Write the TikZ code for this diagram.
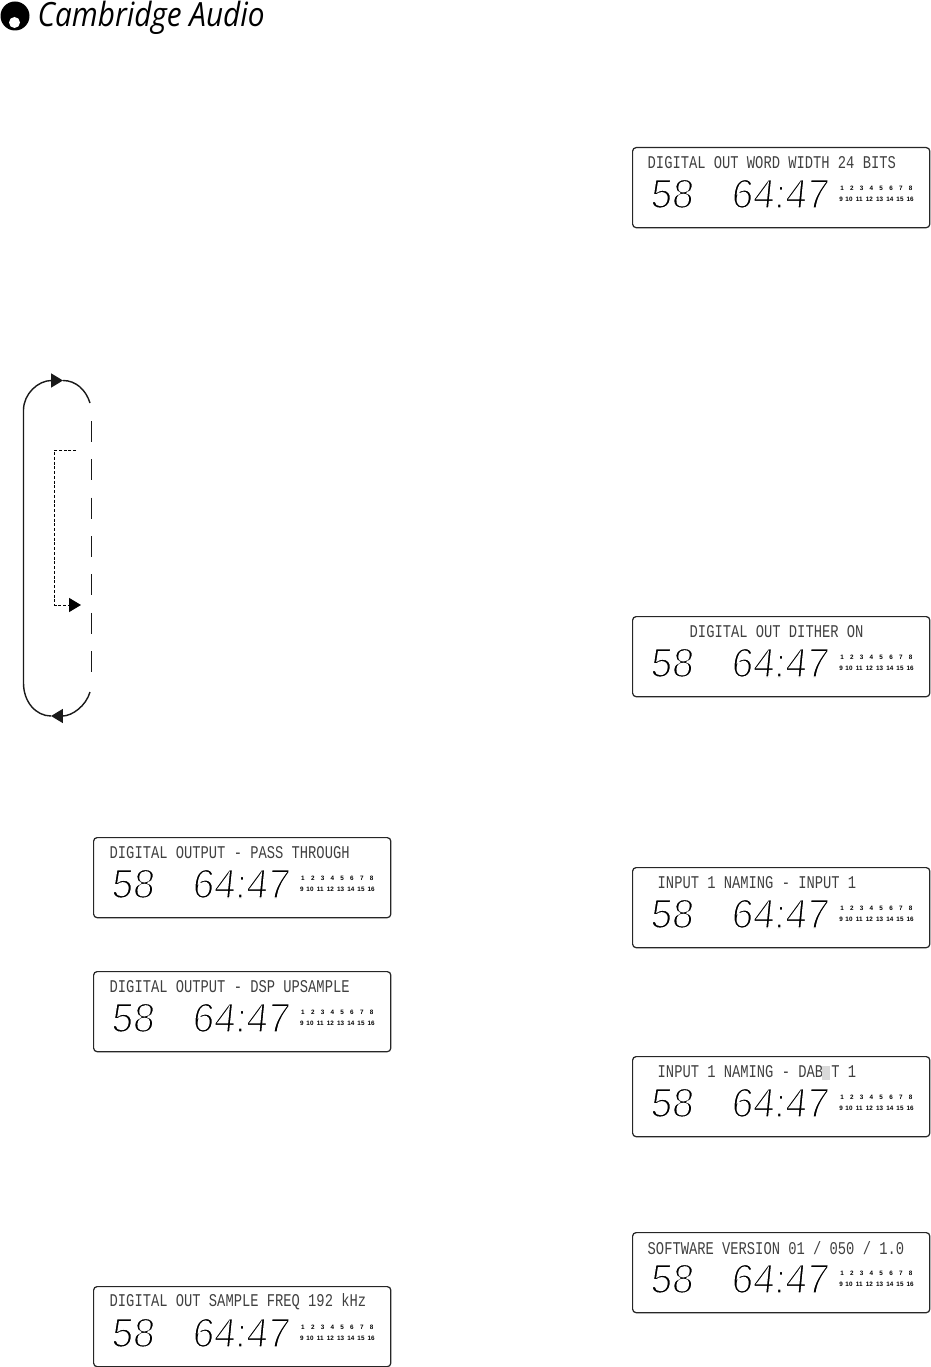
\documentclass[tikz,border=0pt]{standalone}
\usepackage{fontspec}
\usepackage{tikz}
\usetikzlibrary{arrows.meta}
\setmainfont{Liberation Sans}
\newfontfamily\lcdfont{Liberation Mono}
\newfontfamily\logofont{Open Sans}
\newcommand{\thinglyph}{\special{pdf:code 2 Tr 0.42 w 1 1 1 RG}}
\newcommand{\fullglyph}{\special{pdf:code 0 Tr 0 0 0 RG}}
\tikzset{
  panelbox/.style={draw=black!85,line width=.35pt,rounded corners=1pt,minimum width=2.97cm,minimum height=.8cm,inner sep=0,anchor=north west},
  titletext/.style={anchor=west,inner sep=0,black!75,yscale=1.3,transform shape,font=\lcdfont\fontsize{3.92}{4}\selectfont},
  bigdigits/.style={anchor=base west,inner sep=0,xslant=.1,xscale=.94,transform shape,font=\fontsize{11.7}{12}\selectfont},
  trackno/.style={inner sep=0,font=\bfseries\fontsize{1.8}{2.2}\selectfont},
  loopline/.style={line width=.4pt,black!90},
  looptip/.style={-{Triangle[length=3.4pt,width=4pt]}},
}
\begin{document}
\begin{tikzpicture}[x=0.01cm,y=-0.01cm]
\useasboundingbox (0,0) rectangle (930,1367);

% logo
\fill (15,16) circle (14.5);
\fill[white] (14.5,22.5) circle (5.5);
\node[anchor=base west,inner sep=0,xscale=.89,transform shape,font=\logofont\itshape\fontsize{9.5}{10}\selectfont] (logo) at (37,27) {Cambridge Audio};

% loop
\coordinate (rightbot) at (90,692);
\coordinate (bottip) at (51,716);
\coordinate (leftbot) at (23.5,683);
\coordinate (lefttop) at (23.5,410);
\coordinate (toptip) at (63,380.5);
\coordinate (righttop) at (90,403);
\coordinate (dashtop) at (91.5,421);
\coordinate (dashbot) at (91.5,674);
\draw[loopline,looptip] (rightbot) .. controls (86,706) and (72,716) .. (bottip);
\draw[loopline] (bottip) .. controls (36,716) and (23.5,702) .. (leftbot) -- (lefttop);
\draw[loopline,looptip] (lefttop) .. controls (23.5,394) and (38,380.5) .. (toptip);
\draw[loopline] (toptip) .. controls (76,380.5) and (86,390) .. (righttop);
\draw[loopline,dash pattern=on 5.95pt off 4.96pt] (dashtop) -- (dashbot);

% dashed return
\coordinate (stubstart) at (76,450);
\coordinate (stubcorner) at (54.5,450);
\coordinate (stubdown) at (54.5,605);
\coordinate (stubtip) at (81,605);
\draw[line width=.25pt,dash pattern=on .85pt off .5pt] (stubstart) -- (stubcorner) -- (stubdown) -- (69,605);
\draw[looptip,line width=.25pt] (69,605) -- (stubtip);

% displays
\foreach \name/\x/\y/\off/\txt in {
  wordwidth/632/147/15/{DIGITAL OUT WORD WIDTH 24 BITS},
  dither/632/616/57/{DIGITAL OUT DITHER ON},
  naminga/632/867/25/{INPUT 1 NAMING - INPUT 1},
  namingb/632/1056/25/{INPUT 1 NAMING - DAB T 1},
  software/632/1232/15/{SOFTWARE VERSION 01 / 050 / 1.0},
  passthrough/93/837/16/{DIGITAL OUTPUT - PASS THROUGH},
  upsample/93/971/16/{DIGITAL OUTPUT - DSP UPSAMPLE},
  samplefreq/93/1286/16/{DIGITAL OUT SAMPLE FREQ 192 kHz}}
{
  \node[panelbox] (\name) at (\x,\y) {};
  \node[titletext] (\name title) at (\x+\off,\y+16) {\txt};
  \node[bigdigits] (\name track) at (\x+17,\y+61) {\thinglyph 58\fullglyph};
  \node[bigdigits] (\name time) at (\x+98,\y+61) {\thinglyph 64:47\fullglyph};
  \foreach \n in {1,...,8}
    \node[trackno] (\name no\n) at ({\x+210+9.8*(\n-1)},\y+41) {\n};
  \node[trackno] (\name no9) at (\x+209,\y+52) {9};
  \foreach \n in {10,...,16}
    \node[trackno] (\name no\n) at ({\x+217+10.2*(\n-10)},\y+52) {\n};
}

% cursor
\fill[black!15] (822,1066) rectangle (830,1080);
\end{tikzpicture}
\end{document}
